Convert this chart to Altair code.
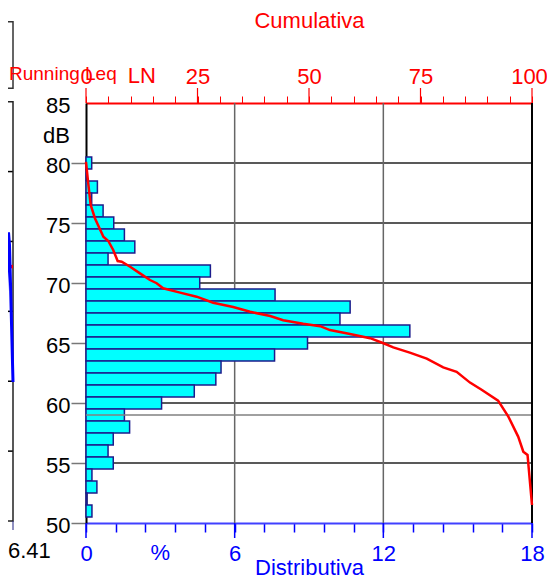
import altair as alt
import pandas as pd

FONT = "Liberation Sans"
BLUE = "#0000ff"
RED = "#ff0000"
NAVY = "#1c1c8c"

# ---- distribution (bottom axis, %), one bar per dB level
levels = [80, 79, 78, 77, 76, 75, 74, 73, 72, 71,
          70, 69, 68, 67, 66, 65, 64, 63, 62, 61,
          60, 59, 58, 57, 56, 55, 54, 53, 52, 51]
distrib = [0.23, 0.0, 0.46, 0.23, 0.69, 1.12, 1.55, 1.97, 0.89, 5.02,
           4.59, 7.63, 10.66, 10.25, 13.07, 8.94, 7.61, 5.45, 5.24, 4.37,
           3.05, 1.55, 1.76, 1.10, 0.89, 1.10, 0.24, 0.44, 0.04, 0.24]

# ---- cumulative curve (top axis, %)
cum_pct = [0, 0.5, 1.05, 2.0, 3.9, 5.0, 6.1, 7.1, 8.0, 9.9, 12.1, 14.35, 15.85,
           17.3, 21.1, 24.8, 28.5, 33.0, 36.8, 41.3, 44.2, 48.7, 52.5, 54.7,
           59.2, 63.7, 66.7, 68.9, 72.6, 76.4, 80.1, 83.1, 86.1, 88.7, 92.4,
           94.7, 96.9, 98.05, 99.0, 100]
cum_db = [80.1, 78.3, 76.5, 75.4, 73.86, 73.5, 72.75, 71.83, 71.78, 71.36, 70.8,
          70.25, 69.98, 69.56, 69.2, 68.86, 68.36, 68.0, 67.6, 67.25, 66.9, 66.6,
          66.4, 66.08, 65.75, 65.4, 64.98, 64.64, 64.2, 63.7, 62.97, 62.6, 61.7,
          61.1, 60.2, 58.86, 57.2, 55.94, 55.67, 51.5]

pct_ticks = [0, 1.2, 2.4, 3.6, 4.8, 6, 7.2, 8.4, 9.6, 10.8, 12, 13.2, 14.4, 15.6, 16.8, 18]
pct_major = [0, 6, 12, 18]
pct_grid = [6, 12]
pct_border = [18]
pct_unit_pos = [3]
cum_ticks = [0, 5, 10, 15, 20, 25, 30, 35, 40, 45, 50, 55, 60, 65, 70, 75, 80, 85, 90, 95, 100]
cum_major = [0, 25, 50, 75, 100]
cum_ln_pos = [12.5]
db_ticks = [50, 55, 60, 65, 70, 75, 80, 85]
db_grid = [55, 60, 65, 70, 75, 80]
db_marker = [59]

# ---- left panel (running Leq time history, mostly cut off)
left_t = [-13, -11.5, -9.7, -8.2, -6.5, -4.5, -3.5, 0]
left_db = [56.6, 73.8, 81.9, 67.3, 62.8, 71.3, 69.5, 49.9]
left_leq = [66.4]
left_grid = [40, 50, 60, 70, 80]

bars_df = pd.DataFrame({"level": levels, "pct": distrib})
bars_df["lo"] = bars_df["level"] - 0.5
bars_df["hi"] = bars_df["level"] + 0.5
bars_df["base"] = 0.0

cum_df = pd.DataFrame({"cum": cum_pct, "db": cum_db})
left_df = pd.DataFrame({"t": left_t, "db": left_db})
one = pd.DataFrame({"a": [0]})


def pct_scale():
    return alt.Scale(domain=[0, 18], nice=False, zero=False)


def cum_scale():
    return alt.Scale(domain=[0, 100], nice=False, zero=False)


def db_scale():
    return alt.Scale(domain=[50, 85], nice=False, zero=False)


def lx_scale():
    return alt.Scale(domain=[73, 519], nice=False, zero=False)


def ly_scale():
    return alt.Scale(domain=[29.714, 89.814], nice=False, zero=False)


bottom_axis = alt.Axis(
    orient="bottom", values=pct_ticks, tickSize=9, tickColor=BLUE, tickWidth=1.5,
    domainColor="#4040ff", domainWidth=2, grid=False,
    labelExpr="(datum.value % 6 == 0) ? format(datum.value, 'd') : ''",
    labelColor=BLUE, labelFont=FONT, labelFontSize=22, labelPadding=11,
    labelFlush=False, labelOverlap=False,
    title="Distributiva", titleColor=BLUE, titleFont=FONT, titleFontSize=22,
    titleFontWeight="normal", titleBaseline="alphabetic", titleY=51,
)
top_axis = alt.Axis(
    orient="top", values=cum_ticks, tickSize=7, tickColor=RED, tickWidth=1,
    domainColor=RED, domainWidth=2, grid=False,
    labelExpr="(datum.value % 25 == 0) ? format(datum.value, 'd') : ''",
    labelColor=RED, labelFont=FONT, labelFontSize=22, labelPadding=8,
    labelOffset={"condition": {"test": "datum.value == 100", "value": -3}, "value": 0},
    labelFlush=False, labelOverlap=False,
    title="Cumulativa", titleColor=RED, titleFont=FONT, titleFontSize=22,
    titleFontWeight="normal", titlePadding=33,
)
left_axis = alt.Axis(
    orient="left", values=db_ticks, tickSize=15, tickColor="#777777", tickWidth=1.5,
    tickOpacity={"condition": {"test": "datum.value == 85", "value": 0}, "value": 1},
    domainColor="#000000", domainWidth=2, grid=False,
    labelColor="#000000", labelFont=FONT, labelFontSize=22, labelPadding=1,
    labelOffset=2, labelOverlap=False, title=None,
)

# ---- distribution (percent x scale)
hgrid = alt.Chart(pd.DataFrame({"v": db_grid})).mark_rule(color="#222222", strokeWidth=1.5).encode(
    y=alt.Y("v:Q", scale=db_scale(), axis=None))
vgrid = alt.Chart(pd.DataFrame({"v": pct_grid})).mark_rule(color="#666666", strokeWidth=1.5).encode(
    x=alt.X("v:Q", scale=pct_scale(), axis=None))
bars = alt.Chart(bars_df).mark_rect(fill="#00ffff", stroke=NAVY, strokeWidth=1.5).encode(
    x=alt.X("base:Q", scale=pct_scale(), axis=bottom_axis),
    x2="pct",
    y=alt.Y("lo:Q", scale=db_scale(), axis=left_axis),
    y2="hi",
)
marker = alt.Chart(pd.DataFrame({"v": db_marker})).mark_rule(color="#808080", strokeWidth=1.5).encode(
    y=alt.Y("v:Q", scale=db_scale(), axis=None))
border = alt.Chart(pd.DataFrame({"v": pct_border})).mark_rule(color="#000000", strokeWidth=2).encode(
    x=alt.X("v:Q", scale=pct_scale(), axis=None))
pct_major_ticks = alt.Chart(pd.DataFrame({"v": pct_major})).mark_rule(color=BLUE, strokeWidth=1.5).encode(
    x=alt.X("v:Q", scale=pct_scale(), axis=None), y=alt.value(420), y2=alt.value(435))
pct_unit = alt.Chart(pd.DataFrame({"v": pct_unit_pos})).mark_text(
    text="%", font=FONT, fontSize=22, color=BLUE, baseline="top", align="center").encode(
    x=alt.X("v:Q", scale=pct_scale(), axis=None), y=alt.value(439.6))

# ---- cumulative (top x scale)
cum_line = alt.Chart(cum_df).mark_line(color=RED, strokeWidth=2.5).encode(
    x=alt.X("cum:Q", scale=cum_scale(), axis=top_axis),
    y=alt.Y("db:Q", scale=db_scale(), axis=None),
)
cum_major_ticks = alt.Chart(pd.DataFrame({"v": cum_major})).mark_rule(color=RED, strokeWidth=1.2).encode(
    x=alt.X("v:Q", scale=cum_scale(), axis=None), y=alt.value(-15), y2=alt.value(0))
cum_ln = alt.Chart(pd.DataFrame({"v": cum_ln_pos})).mark_text(
    text="LN", font=FONT, fontSize=22, color=RED, baseline="bottom", align="center").encode(
    x=alt.X("v:Q", scale=cum_scale(), axis=None), y=alt.value(-15.1))

# ---- left (cut off) time-history panel
l_grid = alt.Chart(pd.DataFrame({"v": left_grid})).mark_rule(color="#000000", strokeWidth=1.5).encode(
    y=alt.Y("v:Q", scale=ly_scale(), axis=None), x=alt.value(-95), x2=alt.value(-73))
l_trace = alt.Chart(left_df).mark_line(color=BLUE, strokeWidth=3).encode(
    x=alt.X("t:Q", scale=lx_scale(), axis=None),
    y=alt.Y("db:Q", scale=ly_scale(), axis=None),
)
l_leq = alt.Chart(pd.DataFrame({"v": left_leq})).mark_rule(color=RED, strokeWidth=3.5).encode(
    y=alt.Y("v:Q", scale=ly_scale(), axis=None), x=alt.value(-95), x2=alt.value(-73))
l_frame = alt.Chart(one).mark_rect(fillOpacity=0, stroke="#222222", strokeWidth=1.5).encode(
    x=alt.value(-95), x2=alt.value(-73), y=alt.value(-1.3), y2=alt.value(418))
l_box = alt.Chart(one).mark_rect(fillOpacity=0, stroke="#333333", strokeWidth=1.5).encode(
    x=alt.value(-95), x2=alt.value(-73), y=alt.value(-81.3), y2=alt.value(-14.7))
l_tick = alt.Chart(one).mark_rule(color="#202080", strokeWidth=1).encode(
    x=alt.value(-73), y=alt.value(418), y2=alt.value(427))
l_time = alt.Chart(one).mark_text(text="6.41", font=FONT, fontSize=22, color="#000000",
                                  baseline="top", align="left").encode(
    x=alt.value(-78), y=alt.value(438))
l_title = alt.Chart(one).mark_text(text="Running Leq", font=FONT, fontSize=19, color=RED,
                                   baseline="alphabetic", align="left").encode(
    x=alt.value(-77), y=alt.value(-23))
db_label = alt.Chart(one).mark_text(text="dB", font=FONT, fontSize=22, color="#000000",
                                    baseline="alphabetic", align="right").encode(
    x=alt.value(-16), y=alt.value(40.3))

chart = alt.layer(
    hgrid, vgrid, bars, marker, border, pct_major_ticks, pct_unit,
    cum_line, cum_major_ticks, cum_ln,
    l_grid, l_frame, l_box, l_leq, l_trace, l_tick, l_time, l_title, db_label,
).resolve_scale(
    x="independent", y="independent"
).properties(
    width=446, height=420,
    autosize=alt.AutoSizeParams(type="none"),
    padding={"left": 78, "top": 95, "right": 15, "bottom": 56},
).configure_view(stroke=None).configure(font=FONT)

chart.save("out.html", embed_options={"renderer": "svg", "actions": False})
